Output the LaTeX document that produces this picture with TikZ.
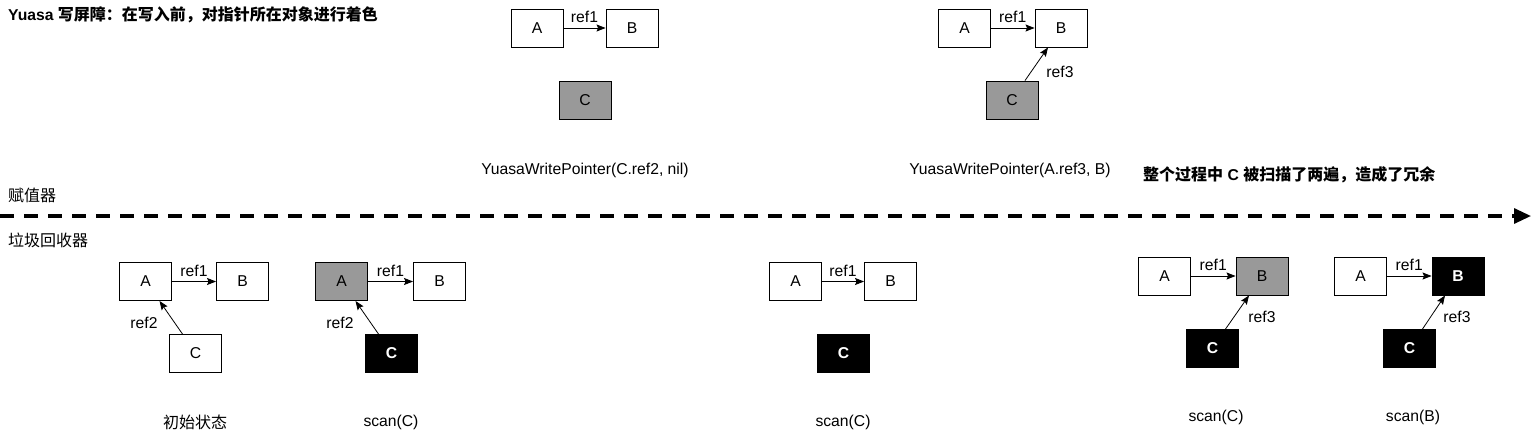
\documentclass[tikz,border=0pt]{standalone}
\usepackage{fontspec}
\setmainfont{Liberation Sans}
\newfontfamily\cjk{Noto Sans CJK SC}
\usetikzlibrary{arrows.meta,calc}
\definecolor{objgray}{HTML}{999999}
\newcommand{\fs}{\fontsize{15.7}{18}\selectfont}
\newcommand{\fc}{\fontsize{16}{18}\selectfont}
\tikzset{
  obj/.style={draw, line width=0.9pt, minimum width=52pt, minimum height=38pt, inner sep=0pt, font=\fs},
  grayobj/.style={obj, fill=objgray},
  blackobj/.style={obj, fill=black, text=white, font=\fs\bfseries},
  ref/.style={line width=0.8pt, -{Stealth[length=9pt,width=7pt,inset=1.5pt]}},
  lbl/.style={font=\fs, inner sep=0pt},
  cjklbl/.style={font=\fc\cjk, inner sep=0pt, anchor=west},
}
\begin{document}
\begin{tikzpicture}[x=1pt,y=-1pt]
\useasboundingbox (0,0) rectangle (1532,439);

% texts
\node[cjklbl, font=\fs\bfseries] (title) at (8,15) {Yuasa {\fc\cjk\bfseries 写屏障：在写入前，对指针所在对象进行着色}};
\node[cjklbl] (mut) at (8,195) {赋值器};
\node[cjklbl] (gc) at (8,240) {垃圾回收器};
\node[cjklbl, font=\fs\bfseries] (note) at (1143,175) {{\fc\cjk\bfseries 整个过程中} C {\fc\cjk\bfseries 被扫描了两遍，造成了冗余}};

% timeline
\coordinate (ls) at (0,216);
\coordinate (le) at (1531,216);
\draw[line width=3.2pt, dash pattern=on 14pt off 10pt, -{Triangle[length=17pt,width=15pt]}] (ls) -- (le);

% top group 1
\node[obj] (tA1) at (537,28) {A};
\node[obj] (tB1) at (632,28) {B};
\node[grayobj] (tC1) at (585,100) {C};
\draw[ref] (tA1.east) -- (tB1.west) node[lbl, midway, yshift=11pt] (tr1) {ref1};
\node[lbl] (tcap1) at (585,170) {YuasaWritePointer(C.ref2, nil)};

% top group 2
\node[obj] (tA2) at (964.5,28) {A};
\node[obj] (tB2) at (1061,28) {B};
\node[grayobj] (tC2) at (1012,100) {C};
\draw[ref] (tA2.east) -- (tB2.west) node[lbl, midway, yshift=11pt] (tr2) {ref1};
\draw[ref] ($(tC2.north)+(13,0)$) -- ($(tB2.south)+(-13,0)$);
\node[lbl] (tr3) at (1060,72) {ref3};
\node[lbl] (tcap2) at (1010,170) {YuasaWritePointer(A.ref3, B)};

% bottom group 1
\node[obj] (bA1) at (145.5,281.5) {A};
\node[obj] (bB1) at (242.5,281.5) {B};
\node[obj] (bC1) at (195.5,353.5) {C};
\draw[ref] (bA1.east) -- (bB1.west) node[lbl, midway, yshift=11pt] (br11) {ref1};
\draw[ref] ($(bC1.north)+(-13,0)$) -- ($(bA1.south)+(14,0)$);
\node[lbl] (br12) at (144,323) {ref2};
\node[lbl, font=\fc\cjk] (bcap1) at (195,422) {初始状态};

% bottom group 2
\node[grayobj] (bA2) at (341.5,281.5) {A};
\node[obj] (bB2) at (439.5,281.5) {B};
\node[blackobj] (bC2) at (391.5,353.5) {C};
\draw[ref] (bA2.east) -- (bB2.west) node[lbl, midway, yshift=11pt] (br21) {ref1};
\draw[ref] ($(bC2.north)+(-13,0)$) -- ($(bA2.south)+(14,0)$);
\node[lbl] (br22) at (340,323) {ref2};
\node[lbl] (bcap2) at (391,422) {scan(C)};

% bottom group 3
\node[obj] (bA3) at (795.5,281.5) {A};
\node[obj] (bB3) at (890.5,281.5) {B};
\node[blackobj] (bC3) at (843.5,353.5) {C};
\draw[ref] (bA3.east) -- (bB3.west) node[lbl, midway, yshift=11pt] (br31) {ref1};
\node[lbl] (bcap3) at (843,422) {scan(C)};

% bottom group 4
\node[obj] (bA4) at (1164.5,276) {A};
\node[grayobj] (bB4) at (1262,276) {B};
\node[blackobj] (bC4) at (1212.5,348.5) {C};
\draw[ref] (bA4.east) -- (bB4.west) node[lbl, midway, yshift=11pt] (br41) {ref1};
\draw[ref] ($(bC4.north)+(13,0)$) -- ($(bB4.south)+(-13,0)$);
\node[lbl] (br43) at (1262,317) {ref3};
\node[lbl] (bcap4) at (1216,417) {scan(C)};

% bottom group 5
\node[obj] (bA5) at (1360.5,276) {A};
\node[blackobj] (bB5) at (1458,276) {B};
\node[blackobj] (bC5) at (1409.5,348.5) {C};
\draw[ref] (bA5.east) -- (bB5.west) node[lbl, midway, yshift=11pt] (br51) {ref1};
\draw[ref] ($(bC5.north)+(13,0)$) -- ($(bB5.south)+(-13,0)$);
\node[lbl] (br53) at (1457,317) {ref3};
\node[lbl] (bcap5) at (1413,417) {scan(B)};
\end{tikzpicture}
\end{document}
